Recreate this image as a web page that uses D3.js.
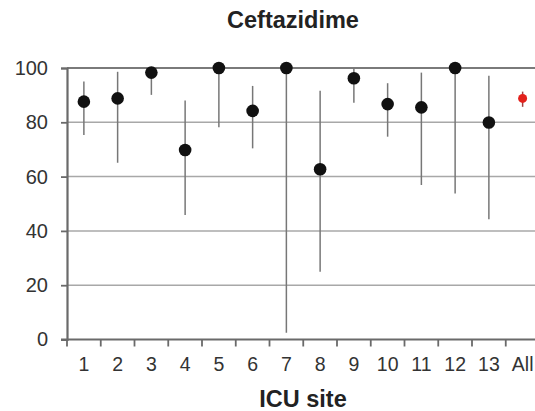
<!DOCTYPE html>
<html>
<head>
<meta charset="utf-8">
<script src="https://cdn.jsdelivr.net/npm/d3@7"></script>
<style>
  html, body { margin: 0; padding: 0; background: #fff; }
  svg { display: block; font-family: "Liberation Sans", Arial, Helvetica, sans-serif; }
</style>
</head>
<body>
<svg id="chart" width="535" height="411"></svg>
<script>
// Ceftazidime susceptibility (%) by ICU site, with 95% confidence intervals
const sites   = ["1","2","3","4","5","6","7","8","9","10","11","12","13","All"];
const pct     = [87.6, 88.8, 98.3, 69.8, 100, 84.2, 100, 62.7, 96.2, 86.7, 85.5, 100, 79.9, 88.8];
const ciLow   = [75.3, 65.1, 90.1, 45.9, 78.2, 70.4, 2.5, 25.0, 87.2, 74.7, 56.9, 53.8, 44.3, 85.7];
const ciHigh  = [95.0, 98.6, 100, 88.0, 100, 93.4, 100, 91.6, 100, 94.4, 98.3, 100, 97.1, 91.3];
const yTicks  = [0, 20, 40, 60, 80, 100];

const rows = sites.map((s, i) => ({ site: s, v: pct[i], lo: ciLow[i], hi: ciHigh[i], pooled: s === "All" }));

const svg = d3.select("#chart");
const plotLeft = 67, plotRight = 539.5, plotTop = 68, plotBottom = 339.5;

const x = d3.scaleBand().domain(sites).range([plotLeft, plotRight]).padding(0);
const y = d3.scaleLinear().domain([0, 100]).range([plotBottom, plotTop]);

// horizontal gridlines
svg.append("g").selectAll("line").data(yTicks.filter(d => d > 0)).join("line")
  .attr("x1", plotLeft).attr("x2", 535)
  .attr("y1", d => y(d)).attr("y2", d => y(d))
  .attr("stroke", d => d === 100 ? "#7a7a7a" : "#a8a8a8")
  .attr("stroke-width", d => d === 100 ? 2 : 1.5);

// y axis
const yAxis = svg.append("g").attr("transform", `translate(${plotLeft},0)`)
  .call(d3.axisLeft(y).tickValues(yTicks).tickSize(6).tickPadding(13));
yAxis.select(".domain").attr("stroke", "#6a6a6a").attr("stroke-width", 2.2);
yAxis.selectAll(".tick line").attr("stroke", "#6a6a6a").attr("stroke-width", 1.8);
yAxis.selectAll(".tick text").attr("font-size", 20).attr("fill", "#333").attr("font-family", null);

// x axis: labels centred in each band, ticks on band boundaries
const xAxis = svg.append("g").attr("transform", `translate(0,${plotBottom})`)
  .call(d3.axisBottom(x).tickSize(0).tickPadding(18));
xAxis.select(".domain").remove();
xAxis.selectAll(".tick text").attr("font-size", 19.5).attr("fill", "#333").attr("font-family", null);
svg.append("line")
  .attr("x1", plotLeft - 6).attr("x2", 535)
  .attr("y1", plotBottom).attr("y2", plotBottom)
  .attr("stroke", "#6a6a6a").attr("stroke-width", 2.2);
svg.append("g").selectAll("line").data(sites).join("line")
  .attr("x1", d => x(d)).attr("x2", d => x(d))
  .attr("y1", plotBottom).attr("y2", plotBottom + 7)
  .attr("stroke", "#6a6a6a").attr("stroke-width", 1.8);

// confidence intervals
svg.append("g").selectAll("line").data(rows).join("line")
  .attr("x1", d => x(d.site) + x.bandwidth() / 2)
  .attr("x2", d => x(d.site) + x.bandwidth() / 2)
  .attr("y1", d => y(d.lo)).attr("y2", d => y(d.hi))
  .attr("stroke", d => d.pooled ? "#a04040" : "#777")
  .attr("stroke-width", 1.5);

// point estimates
svg.append("g").selectAll("circle").data(rows).join("circle")
  .attr("cx", d => x(d.site) + x.bandwidth() / 2)
  .attr("cy", d => y(d.v))
  .attr("r", d => d.pooled ? 4.5 : 6.3)
  .attr("fill", d => d.pooled ? "#e3211c" : "#111");

// titles
svg.append("text").attr("x", 293).attr("y", 28).attr("text-anchor", "middle")
  .attr("font-size", 23.5).attr("font-weight", "bold").attr("fill", "#222").text("Ceftazidime");
svg.append("text").attr("x", 303).attr("y", 407).attr("text-anchor", "middle")
  .attr("font-size", 23.5).attr("font-weight", "bold").attr("fill", "#222").text("ICU site");
</script>
</body>
</html>
